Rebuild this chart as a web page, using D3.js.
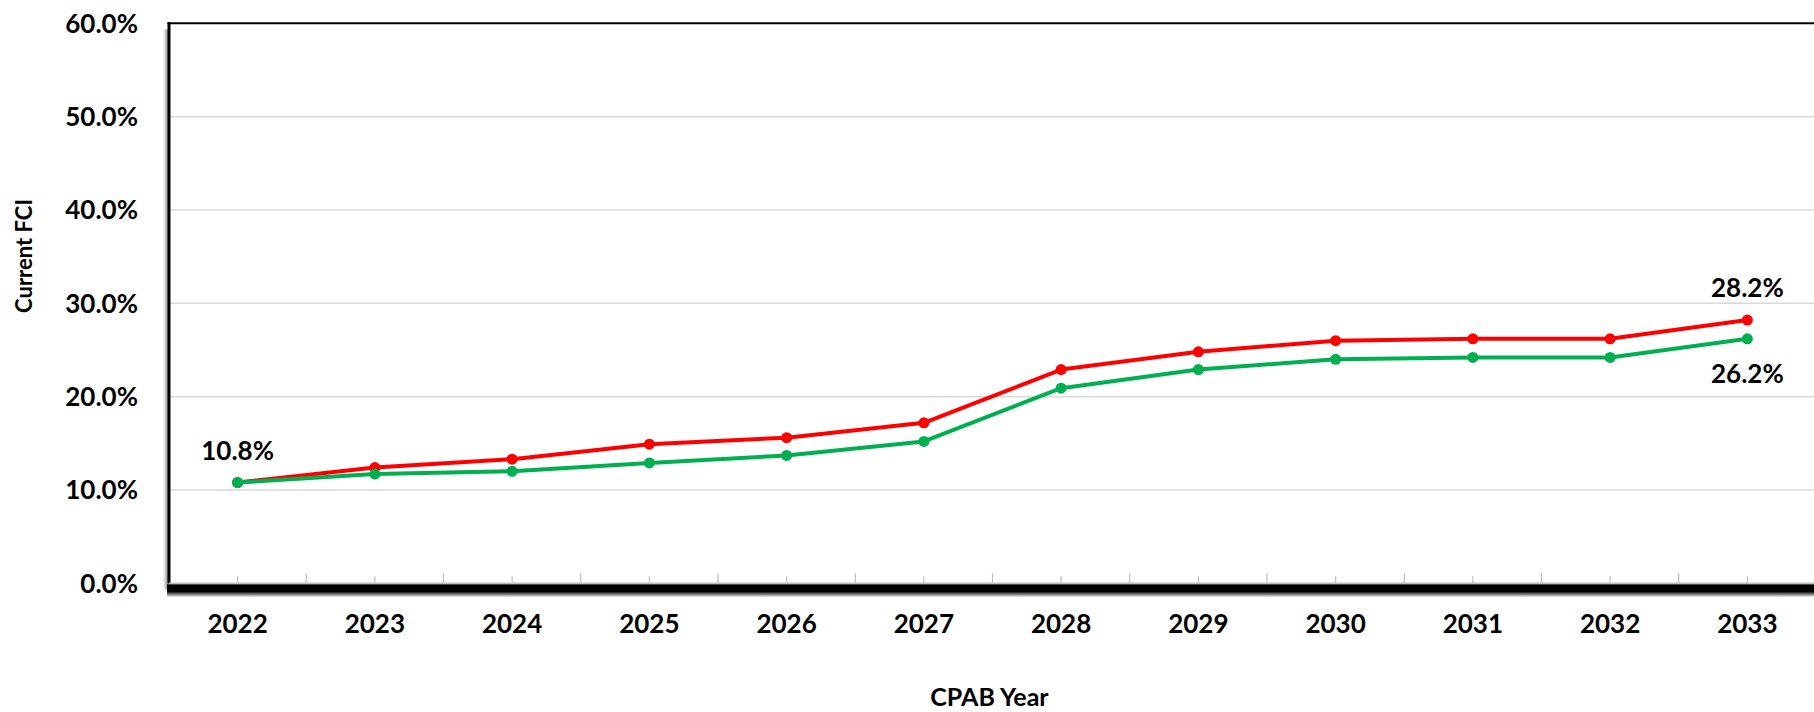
<!DOCTYPE html>
<html>
<head>
  <meta charset="utf-8">
  <script src="https://cdn.jsdelivr.net/npm/d3@7"></script>
  <style>
    body{margin:0;background:#fff;}
    svg{display:block;font-family:Lato, "Open Sans", sans-serif;font-weight:700;}
  </style>
</head>
<body>
<svg></svg>
<script>
  // chart data
  var years = ["2022","2023","2024","2025","2026","2027","2028","2029","2030","2031","2032","2033"];
  var redValues = [10.8, 12.4, 13.3, 14.9, 15.6, 17.2, 22.9, 24.8, 26.0, 26.2, 26.2, 28.2];
  var greenValues = [10.8, 11.7, 12.0, 12.9, 13.7, 15.2, 20.9, 22.9, 24.0, 24.2, 24.2, 26.2];
  var yTicks = [0, 10, 20, 30, 40, 50, 60];

  function draw() {
    var W = 1814, H = 712;
    var pLeft = 169, pRight = 1816, pTop = 23.3, pBottom = 583.3;

    var svg = d3.select("svg").attr("width", W).attr("height", H);

    var x = d3.scaleBand().domain(years).range([pLeft, pRight]).padding(0);
    var cx = function(d){ return x(d) + x.bandwidth() / 2; };
    var y = d3.scaleLinear().domain([0, 60]).range([pBottom, pTop]);

    var defs = svg.append("defs");
    var gb = defs.append("linearGradient").attr("id", "shadowB").attr("x1", 0).attr("x2", 0).attr("y1", 0).attr("y2", 1);
    gb.append("stop").attr("offset", "0").attr("stop-color", "#000");
    gb.append("stop").attr("offset", "0.55").attr("stop-color", "#000");
    gb.append("stop").attr("offset", "1").attr("stop-color", "#fff");
    var gl = defs.append("linearGradient").attr("id", "shadowL").attr("x1", 0).attr("x2", 1).attr("y1", 0).attr("y2", 0);
    gl.append("stop").attr("offset", "0").attr("stop-color", "#fff");
    gl.append("stop").attr("offset", "1").attr("stop-color", "#777");

    // shadows of the plot frame
    svg.append("rect").attr("x", pLeft - 6).attr("y", pTop + 6).attr("width", 6).attr("height", pBottom - pTop)
      .attr("fill", "url(#shadowL)");
    svg.append("rect").attr("x", pLeft - 2).attr("y", pBottom + 1).attr("width", W - pLeft + 2).attr("height", 13)
      .attr("fill", "url(#shadowB)");

    // gridlines
    svg.append("g").selectAll("line").data(yTicks.filter(function(t){ return t > 0 && t < 60; }))
      .join("line")
      .attr("x1", pLeft).attr("x2", W)
      .attr("y1", function(d){ return y(d); }).attr("y2", function(d){ return y(d); })
      .attr("stroke", "#d9d9d9").attr("stroke-width", 1.5);

    // frame: top and left black, bottom axis grey
    svg.append("line").attr("x1", pLeft - 1.5).attr("x2", W).attr("y1", pTop).attr("y2", pTop)
      .attr("stroke", "#000").attr("stroke-width", 2);
    svg.append("line").attr("x1", pLeft).attr("x2", pLeft).attr("y1", pTop - 1).attr("y2", pBottom)
      .attr("stroke", "#000").attr("stroke-width", 3);
    svg.append("line").attr("x1", pLeft).attr("x2", W).attr("y1", pBottom).attr("y2", pBottom)
      .attr("stroke", "#bfbfbf").attr("stroke-width", 1.5);

    // x ticks: long ones at band edges, short ones at centres
    var tickG = svg.append("g").attr("stroke", "#bfbfbf").attr("stroke-width", 1.2);
    tickG.selectAll("line.edge").data(years.slice(1)).join("line").attr("class", "edge")
      .attr("x1", function(d){ return x(d); }).attr("x2", function(d){ return x(d); })
      .attr("y1", pBottom).attr("y2", pBottom - 10);
    tickG.selectAll("line.mid").data(years).join("line").attr("class", "mid")
      .attr("x1", cx).attr("x2", cx)
      .attr("y1", pBottom).attr("y2", pBottom - 7);

    // y tick labels
    svg.append("g").selectAll("text").data(yTicks).join("text")
      .attr("x", 138).attr("y", function(d){ return y(d); })
      .attr("dy", "0.36em").attr("text-anchor", "end")
      .style("font-size", "26px")
      .text(function(d){ return d3.format(".1f")(d) + "%"; });

    // x tick labels
    svg.append("g").selectAll("text").data(years).join("text")
      .attr("x", cx).attr("y", 633)
      .attr("text-anchor", "middle")
      .style("font-size", "26px")
      .text(function(d){ return d; });

    // axis titles
    svg.append("text").attr("x", (pLeft + pRight) / 2 - 3).attr("y", 706)
      .attr("text-anchor", "middle").style("font-size", "25px").text("CPAB Year");
    svg.append("text").attr("transform", "translate(32,256) rotate(-90)")
      .attr("text-anchor", "middle").style("font-size", "22px").text("Current FCI");

    // lines
    var line = d3.line().x(function(d, i){ return cx(years[i]); }).y(function(d){ return y(d); });

    function drawSeries(vals, color){
      svg.append("path").datum(vals).attr("d", line)
        .attr("fill", "none").attr("stroke", color).attr("stroke-width", 4)
        .attr("stroke-linejoin", "round");
      svg.append("g").selectAll("circle").data(vals).join("circle")
        .attr("cx", function(d, i){ return cx(years[i]); })
        .attr("cy", function(d){ return y(d); })
        .attr("r", 5.5).attr("fill", color);
    }
    drawSeries(redValues, "#ff0000");
    drawSeries(greenValues, "#00b050");

    // data labels
    var last = years.length - 1;
    svg.append("text").attr("x", cx(years[0])).attr("y", y(greenValues[0]) - 23)
      .attr("text-anchor", "middle").style("font-size", "26px")
      .text(greenValues[0].toFixed(1) + "%");
    svg.append("text").attr("x", cx(years[last])).attr("y", y(redValues[last]) - 23)
      .attr("text-anchor", "middle").style("font-size", "26px")
      .text(redValues[last].toFixed(1) + "%");
    svg.append("text").attr("x", cx(years[last])).attr("y", y(greenValues[last]) + 44)
      .attr("text-anchor", "middle").style("font-size", "26px")
      .text(greenValues[last].toFixed(1) + "%");
  }
  draw();
</script>
</body>
</html>
